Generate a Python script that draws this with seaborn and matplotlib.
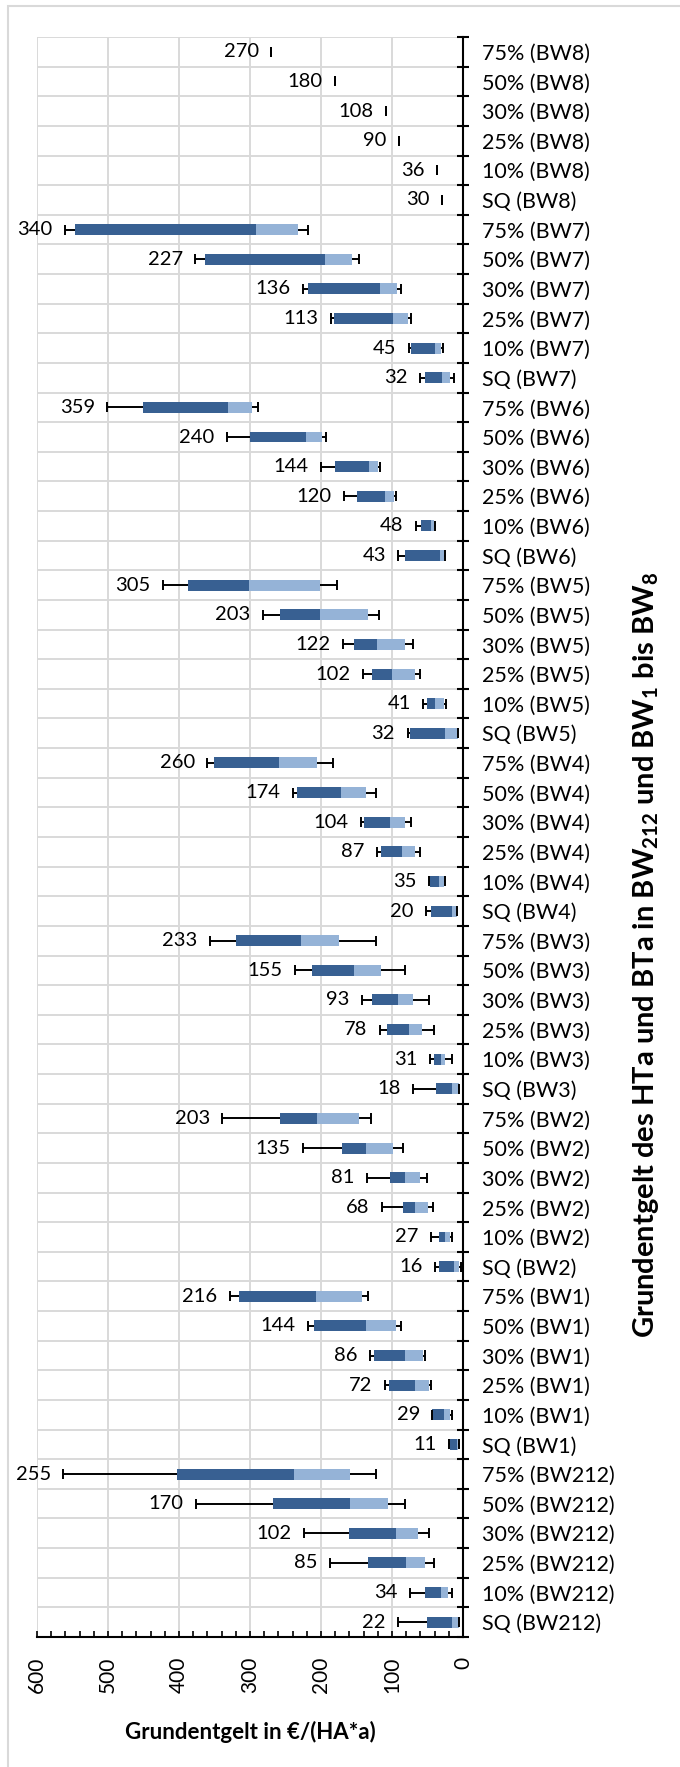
import numpy as np
import pandas as pd
import matplotlib
matplotlib.use("Agg")
import matplotlib.pyplot as plt
import seaborn as sns
from matplotlib.patches import Rectangle

# ---------------- data ----------------
groups = ["BW212", "BW1", "BW2", "BW3", "BW4", "BW5", "BW6", "BW7", "BW8"]
levels = ["SQ", "10%", "25%", "30%", "50%", "75%"]

# per group: SQ, 10%, 25%, 30%, 50%, 75%
whisker_lo = [6, 15, 41, 48, 81, 122,
              6, 16, 45, 54, 88, 134,
              3, 16, 42, 51, 85, 129,
              5, 16, 41, 48, 81, 122,
              8, 26, 61, 73, 122, 183,
              7, 24, 60, 70, 118, 178,
              26, 40, 95, 117, 193, 289,
              13, 28, 73, 87, 146, 219,
              30, 36, 90, 108, 180, 270]
q_low = [6, 21, 53, 63, 106, 159,
         7, 18, 48, 56, 94, 142,
         6, 19, 49, 60, 99, 147,
         5, 26, 58, 70, 116, 175,
         8, 27, 68, 82, 137, 206,
         7, 27, 67, 81, 134, 201,
         27, 41, 97, 120, 198, 297,
         18, 31, 78, 93, 156, 233,
         30, 36, 90, 108, 180, 270]
median = [16, 31, 80, 95, 159, 238,
          9, 27, 68, 82, 137, 207,
          13, 26, 68, 82, 137, 205,
          16, 31, 76, 92, 153, 228,
          16, 34, 86, 103, 172, 259,
          26, 40, 100, 121, 201, 302,
          32, 45, 110, 132, 221, 331,
          30, 39, 98, 117, 195, 292,
          30, 36, 90, 108, 180, 270]
q_high = [51, 53, 134, 161, 268, 403,
          18, 43, 104, 125, 210, 316,
          34, 34, 85, 103, 171, 258,
          38, 41, 107, 128, 213, 320,
          45, 47, 115, 140, 234, 351,
          74, 51, 128, 154, 258, 387,
          81, 59, 149, 180, 300, 450,
          53, 73, 182, 218, 363, 546,
          30, 36, 90, 108, 180, 270]
whisker_hi = [91, 75, 187, 224, 376, 563,
              20, 43, 110, 131, 218, 328,
              39, 45, 114, 135, 225, 339,
              70, 47, 117, 142, 237, 356,
              52, 48, 121, 144, 239, 360,
              78, 56, 141, 169, 282, 423,
              91, 66, 167, 200, 333, 501,
              60, 76, 186, 225, 377, 561,
              30, 36, 90, 108, 180, 270]
value_labels = [22, 34, 85, 102, 170, 255,
                11, 29, 72, 86, 144, 216,
                16, 27, 68, 81, 135, 203,
                18, 31, 78, 93, 155, 233,
                20, 35, 87, 104, 174, 260,
                32, 41, 102, 122, 203, 305,
                43, 48, 120, 144, 240, 359,
                32, 45, 113, 136, 227, 340,
                30, 36, 90, 108, 180, 270]

categories = [f"{lv} ({g})" for g in groups for lv in levels]
x_ticks = [0, 100, 200, 300, 400, 500, 600]

df = pd.DataFrame({"cat": categories, "lo": whisker_lo, "q1": q_low,
                   "med": median, "q3": q_high, "hi": whisker_hi,
                   "label": value_labels})
df["pos"] = np.arange(len(df))

# ---------------- style ----------------
sns.set_theme(style="white")
plt.rcParams["font.family"] = ["Lato", "DejaVu Sans"]
plt.rcParams["mathtext.fontset"] = "custom"
plt.rcParams["mathtext.rm"] = "Lato"
plt.rcParams["mathtext.bf"] = "Lato:bold"

DARK = "#386092"
LIGHT = "#95B3D7"
GRID = "#D9D9D9"

W, H = 680, 1767
fig = plt.figure(figsize=(W / 100, H / 100), dpi=100)
ax = fig.add_axes([37 / W, 1 - 1637 / H, (463 - 37) / W, (1637 - 37) / H])

y = df["pos"].to_numpy()
bh = 0.37
ax.hlines(y, df["lo"], df["hi"], color="black", lw=1.4, zorder=2)
ax.barh(y, df["med"] - df["q1"], left=df["q1"], height=bh, color=LIGHT,
        zorder=3, linewidth=0)
ax.barh(y, df["q3"] - df["med"], left=df["med"], height=bh, color=DARK,
        zorder=3, linewidth=0)
ax.vlines(df["lo"], y - 0.17, y + 0.17, color="black", lw=1.4, zorder=4)
ax.vlines(df["hi"], y - 0.17, y + 0.17, color="black", lw=1.4, zorder=4)

for _, r in df.iterrows():
    ax.annotate(str(r["label"]), xy=(r["hi"], r["pos"]), xytext=(-9, 0),
                textcoords="offset points", ha="right", va="center",
                fontsize=14.5, color="black", annotation_clip=False)

ax.set_xlim(600, 0)
ax.set_ylim(-0.5, len(df) - 0.5)

ax.set_xticks(x_ticks)
ax.set_xticklabels([str(v) for v in x_ticks])
ax.set_xticks(np.arange(0, 601, 20), minor=True)
ax.xaxis.grid(True, which="major", color=GRID, lw=1.4, zorder=0)

ax.yaxis.tick_right()
ax.set_yticks(y)
ax.set_yticklabels(df["cat"])
ax.set_yticks(np.arange(-0.5, len(df), 1), minor=True)
ax.yaxis.grid(True, which="minor", color=GRID, lw=1.4, zorder=0)
ax.yaxis.grid(False, which="major")
ax.set_axisbelow(True)

ax.tick_params(axis="x", which="both", direction="in", length=4.5, width=1.2,
               color="black", bottom=True, top=False)
ax.tick_params(axis="x", which="major", labelsize=15, pad=14,
               labelrotation=90, labelcolor="black")
ax.tick_params(axis="y", which="major", length=0, pad=14, labelsize=15.5,
               right=True, left=False, labelcolor="black")
ax.tick_params(axis="y", which="minor", direction="inout", length=9,
               width=1.5, color="black", right=True, left=False)

for s in ["left", "top"]:
    ax.spines[s].set_visible(False)
for s in ["right", "bottom"]:
    ax.spines[s].set_color("black")
    ax.spines[s].set_linewidth(1.5)
    ax.spines[s].set_zorder(5)

fig.text(250 / W, 1 - 1732 / H, "Grundentgelt in €/(HA*a)", ha="center",
         va="center", fontsize=16, fontweight="bold", color="black")

title = (r"Grundentgelt des HTa und BTa in BW$_{\mathbf{212}}$ und "
         r"BW$_{\mathbf{1}}$ bis BW$_{\mathbf{8}}$")
fig.text(646 / W, 1 - 955 / H, title, rotation=90, ha="center", va="center",
         fontsize=21, fontweight="bold", color="black")

fig.add_artist(Rectangle((8 / W, -0.05), 1.2, 1.05 - 6 / H,
                         transform=fig.transFigure, fill=False,
                         edgecolor=GRID, lw=1.5))

fig.savefig("out.png", dpi=100)
